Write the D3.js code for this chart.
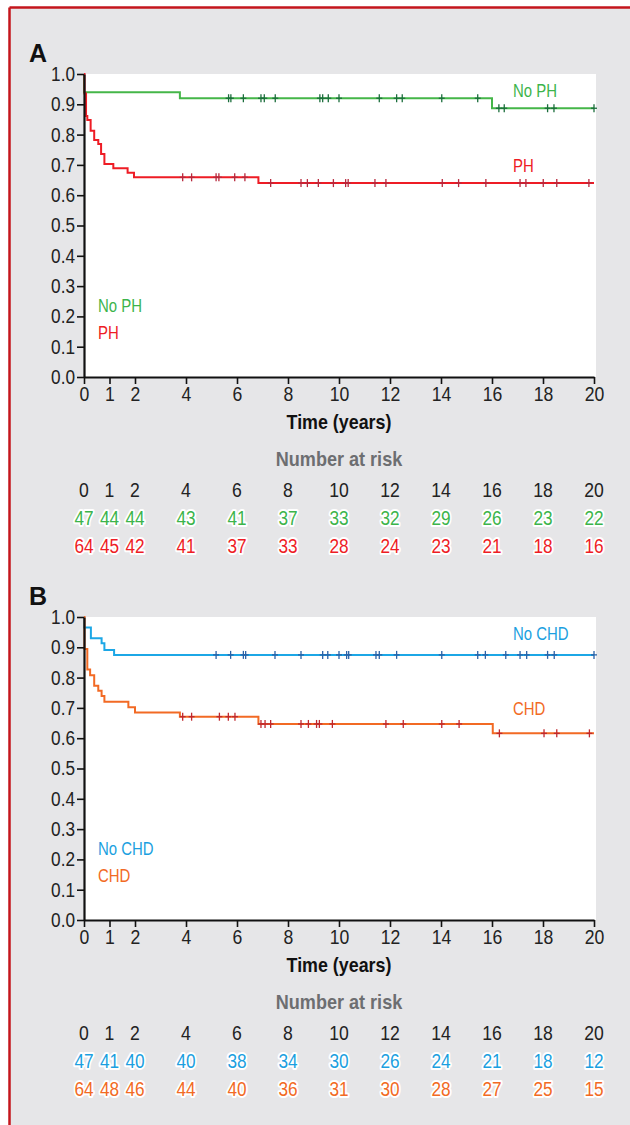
<!DOCTYPE html>
<html><head><meta charset="utf-8">
<script src="https://cdn.jsdelivr.net/npm/d3@7"></script>
<style>
html,body{margin:0;padding:0;background:#fff;overflow:hidden;}
svg{display:block;}
</style></head>
<body>
<script>
// ---------- data ----------
const timeTicks = [0,1,2,4,6,8,10,12,14,16,18,20];
const yTicks = [0,0.1,0.2,0.3,0.4,0.5,0.6,0.7,0.8,0.9,1.0];

// Panel A
const noPHTimes = [0, 0, 3.76, 16.0];
const noPHSurv  = [1.0, 0.94, 0.92, 0.887];
const noPHCensor = [5.67,5.76,6.25,6.94,7.07,7.5,9.25,9.36,9.58,10.0,11.58,12.26,12.48,14.03,15.44,16.27,16.48,18.18,18.43,20.0];
const phTimes = [0, 0.02, 0.08, 0.13, 0.26, 0.40, 0.56, 0.67, 0.80, 1.15, 1.71, 1.96, 6.84];
const phSurv  = [1.0, 0.936, 0.861, 0.848, 0.813, 0.782, 0.769, 0.736, 0.703, 0.689, 0.674, 0.659, 0.640];
const phCensor = [3.87,4.22,5.18,5.29,5.91,6.31,7.32,8.51,8.76,9.19,9.78,10.26,10.36,11.41,11.84,14.05,14.69,15.76,17.1,17.33,18.01,18.54,19.8];
const noPHRisk = [47,44,44,43,41,37,33,32,29,26,23,22];
const phRisk   = [64,45,42,41,37,33,28,24,23,21,18,16];

// Panel B
const noCHDTimes = [0, 0, 0.27, 0.69, 0.80, 1.18];
const noCHDSurv  = [1.0, 0.965, 0.930, 0.913, 0.891, 0.875];
const noCHDCensor = [5.18,5.75,6.25,6.34,7.49,8.51,9.36,9.56,10.0,10.3,10.38,11.45,11.58,12.26,14.03,15.44,15.74,16.54,17.1,17.36,18.18,18.44,20.0];
const chdTimes = [0, 0.02, 0.13, 0.24, 0.40, 0.56, 0.69, 0.80, 1.74, 2.0, 3.76, 6.84, 16.03];
const chdSurv  = [1.0, 0.894, 0.827, 0.808, 0.773, 0.757, 0.739, 0.720, 0.702, 0.685, 0.671, 0.647, 0.616];
const chdCensor = [3.87,4.22,5.31,5.66,5.92,6.94,7.1,7.32,8.51,8.8,9.12,9.23,9.74,11.84,12.52,14.03,14.71,16.29,18.04,18.54,19.82];
const noCHDRisk = [47,41,40,40,38,34,30,26,24,21,18,12];
const chdRisk   = [64,48,46,44,40,36,31,30,28,27,25,15];

// ---------- drawing ----------
const W = 630, H = 1125;
const svg = d3.select("body").append("svg").attr("width", W).attr("height", H);
svg.append("rect").attr("x",0).attr("y",0).attr("width",W).attr("height",H).attr("fill","#fff");
svg.append("rect").attr("x",9.5).attr("y",7.5).attr("width",W).attr("height",H).attr("fill","#e6e6e8");
svg.append("line").attr("x1",9.5).attr("x2",W).attr("y1",7.5).attr("y2",7.5).attr("stroke","#c4161c").attr("stroke-width",2.5);
svg.append("line").attr("x1",9.5).attr("x2",9.5).attr("y1",7.5).attr("y2",H).attr("stroke","#c4161c").attr("stroke-width",2.5);

const x = d3.scaleLinear().domain([0,20]).range([84,594]);
const FONT = '"Liberation Sans", Arial, sans-serif';

// horizontally condense text like the original's condensed typeface
function condense(sel, f){
  sel.each(function(){
    const len = this.getComputedTextLength();
    if (len > 0) d3.select(this).attr("textLength", len*f).attr("lengthAdjust","spacingAndGlyphs");
  });
}

function survAt(times, surv, t){
  let v = surv[0];
  for (let i=0;i<times.length;i++){ if (times[i] <= t) v = surv[i]; }
  return v;
}

function panel(cfg){
  const top = cfg.top, bottom = top + 303;
  const y = d3.scaleLinear().domain([0,1]).range([bottom, top]);
  const g = svg.append("g");

  g.append("text").attr("x",29).attr("y",top-12).text(cfg.letter)
    .attr("font-family",FONT).attr("font-weight","bold")
    .attr("font-size",25).attr("fill","#111");

  g.append("rect").attr("x",x(0)).attr("y",top).attr("width",596-x(0)).attr("height",bottom-top).attr("fill","#fff");

  const line = d3.line().x(d=>x(d[0])).y(d=>y(d[1])).curve(d3.curveStepAfter);
  cfg.series.forEach(s=>{
    const pts = s.times.map((t,i)=>[t, s.surv[i]]);
    pts.push([20, s.surv[s.surv.length-1]]);
    g.append("path").attr("d", line(pts)).attr("fill","none")
      .attr("stroke", s.color).attr("stroke-width",2);
  });
  cfg.series.forEach(s=>{
    const cg = g.append("g").attr("stroke", s.markColor).attr("stroke-width",1.3);
    s.censor.forEach(t=>{
      const cx = x(t), cy = y(survAt(s.times, s.surv, t));
      cg.append("line").attr("x1",cx).attr("x2",cx).attr("y1",cy-4).attr("y2",cy+4);
      cg.append("line").attr("x1",cx-3).attr("x2",cx+3).attr("y1",cy).attr("y2",cy);
    });
  });

  const yAxis = g.append("g").attr("transform",`translate(${x(0)},0)`)
    .call(d3.axisLeft(y).tickValues(yTicks).tickFormat(d3.format(".1f")).tickSize(7).tickSizeOuter(0));
  yAxis.select(".domain").attr("stroke","#111").attr("stroke-width",2.2);
  yAxis.selectAll(".tick line").attr("stroke","#111").attr("stroke-width",1.6);
  yAxis.selectAll(".tick text").attr("font-family",FONT).attr("font-size",20).attr("fill","#222").attr("x",-9);
  condense(yAxis.selectAll(".tick text"), 0.86);

  const xAxis = g.append("g").attr("transform",`translate(0,${bottom})`)
    .call(d3.axisBottom(x).tickValues(timeTicks).tickFormat(d3.format("d")).tickSize(7).tickSizeOuter(0));
  xAxis.select(".domain").attr("stroke","#111").attr("stroke-width",2.2);
  xAxis.selectAll(".tick line").attr("stroke","#111").attr("stroke-width",1.6);
  xAxis.selectAll(".tick text").attr("font-family",FONT).attr("font-size",20).attr("fill","#222").attr("dy","0.8em").attr("y",8);
  condense(xAxis.selectAll(".tick text"), 0.88);

  const tl = g.append("text").attr("x",339).attr("y",top+355).attr("text-anchor","middle")
    .attr("font-family",FONT).attr("font-weight","bold").attr("font-size",21).attr("fill","#111")
    .text("Time (years)");
  condense(tl, 0.85);

  cfg.series.forEach((s,i)=>{
    const a = g.append("text").attr("x",98).attr("y",top+238+i*27).text(s.name)
      .attr("font-family",FONT).attr("font-size",18).attr("fill",s.textColor);
    const b = g.append("text").attr("x",513).attr("y",top+s.labelDy).text(s.name)
      .attr("font-family",FONT).attr("font-size",18).attr("fill",s.textColor);
    condense(a,0.83); condense(b,0.83);
  });

  const nr = g.append("text").attr("x",339).attr("y",top+392).attr("text-anchor","middle")
    .attr("font-family",FONT).attr("font-weight","bold").attr("font-size",21).attr("fill","#6d6e71")
    .text("Number at risk");
  condense(nr, 0.86);
  const hdr = g.selectAll(null).data(timeTicks).enter().append("text")
    .attr("x",d=>x(d)).attr("y",top+423).attr("text-anchor","middle")
    .attr("font-family",FONT).attr("font-size",20).attr("fill","#222").text(d=>d);
  condense(hdr, 0.88);
  cfg.series.forEach((s,i)=>{
    const r = g.selectAll(null).data(s.risk).enter().append("text")
      .attr("x",(d,j)=>x(timeTicks[j])).attr("y",top+451+i*28).attr("text-anchor","middle")
      .attr("font-family",FONT).attr("font-size",20).attr("fill",s.textColor)
      .attr("stroke","#fff").attr("stroke-width",4).attr("stroke-linejoin","round")
      .attr("paint-order","stroke").text(d=>d);
    condense(r, 0.86);
  });
}

panel({top:74, letter:"A", series:[
  {name:"No PH", times:noPHTimes, surv:noPHSurv, censor:noPHCensor, risk:noPHRisk,
   color:"#45b649", markColor:"#1b6e3c", textColor:"#3cb44b", labelDy:23},
  {name:"PH", times:phTimes, surv:phSurv, censor:phCensor, risk:phRisk,
   color:"#ee1c25", markColor:"#b8283c", textColor:"#ee1c25", labelDy:98}
]});
panel({top:617, letter:"B", series:[
  {name:"No CHD", times:noCHDTimes, surv:noCHDSurv, censor:noCHDCensor, risk:noCHDRisk,
   color:"#1ca7e6", markColor:"#2a62a8", textColor:"#1b9fe0", labelDy:23},
  {name:"CHD", times:chdTimes, surv:chdSurv, censor:chdCensor, risk:chdRisk,
   color:"#f26a24", markColor:"#c0282d", textColor:"#f26a24", labelDy:98}
]});
</script>
</body></html>
